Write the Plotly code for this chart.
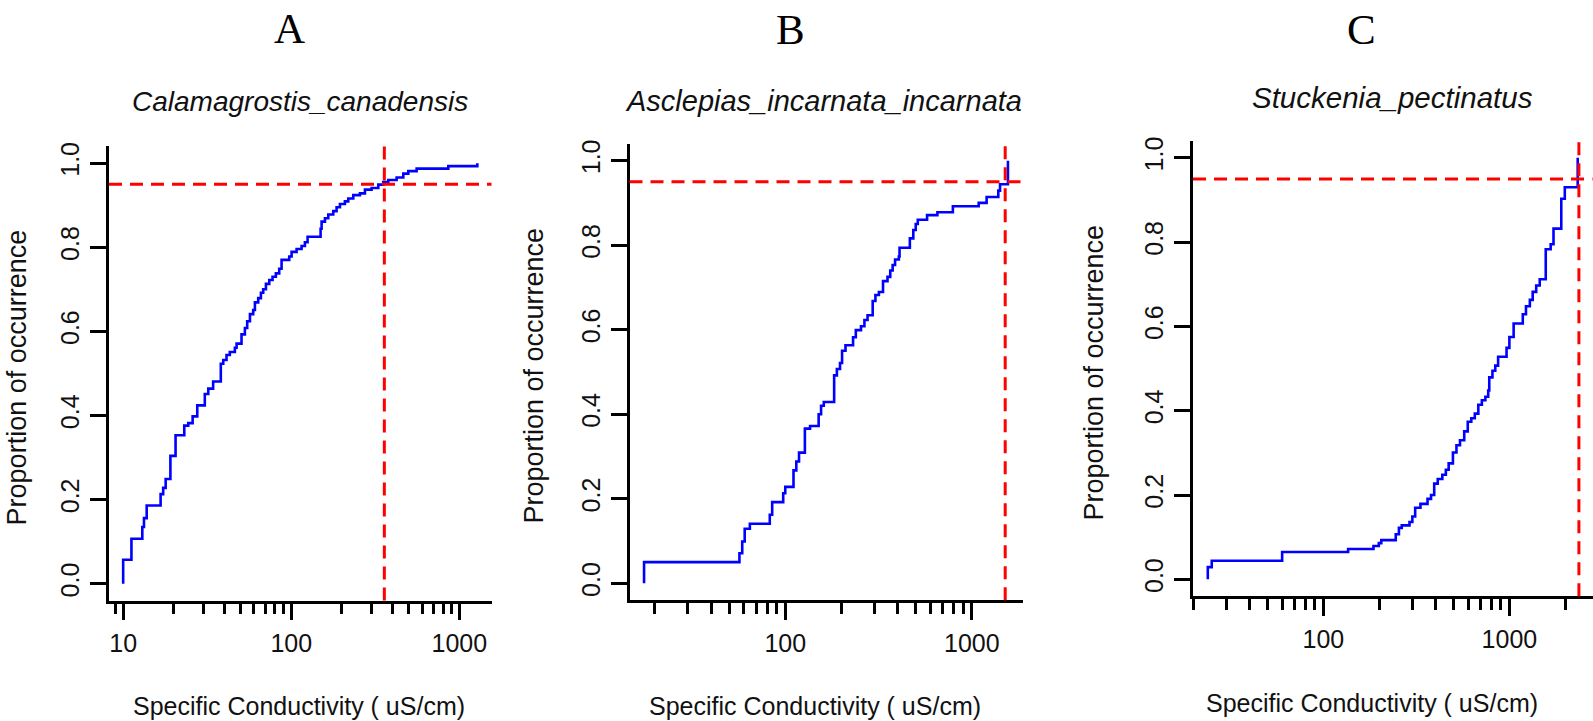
import math
import plotly.graph_objects as go

# ---------------- data ----------------
panel_letters = ["A", "B", "C"]
species = ["Calamagrostis_canadensis", "Asclepias_incarnata_incarnata", "Stuckenia_pectinatus"]
x_title = "Specific Conductivity ( uS/cm)"
y_title = "Proportion of occurrence"

# Panel A: step positions (uS/cm) and cumulative proportion after each step
a_x = [10.0, 11.2, 13.0, 13.3, 13.8, 16.7, 17.3, 17.9, 19.1, 20.5, 23.1, 24.4, 25.9, 27.6, 30.6, 32.1,
       34.3, 38.1, 39.4, 41.2, 43.1, 46.2, 47.3, 50.6, 53.0, 54.7, 56.8, 59.4, 60.8, 63.6, 66.0, 68.1,
       70.7, 74.0, 77.4, 81.0, 84.8, 87.6, 97.3, 100.5, 107.6, 115.2, 120.6, 125.1, 149.5, 151.6, 158.7,
       166.1, 177.8, 186.1, 194.9, 208.6, 218.4, 233.9, 256.3, 274.5, 300.7, 329.6, 352.8, 377.9, 423.6,
       464.2, 497.1, 557.2, 860.0, 1280.0]
a_y = [0.057, 0.107, 0.135, 0.156, 0.186, 0.213, 0.228, 0.249, 0.304, 0.353, 0.376, 0.382, 0.398, 0.424,
       0.451, 0.464, 0.481, 0.523, 0.532, 0.544, 0.551, 0.561, 0.571, 0.593, 0.608, 0.624, 0.641, 0.651,
       0.669, 0.679, 0.692, 0.700, 0.713, 0.722, 0.730, 0.738, 0.749, 0.770, 0.778, 0.789, 0.796, 0.803,
       0.812, 0.825, 0.844, 0.861, 0.869, 0.878, 0.886, 0.895, 0.903, 0.909, 0.916, 0.924, 0.928, 0.937,
       0.941, 0.949, 0.955, 0.960, 0.966, 0.975, 0.981, 0.987, 0.993, 1.000]

# Panel B
b_x = [17.5, 56.8, 58.8, 60.6, 64.6, 82.6, 85.1, 97.5, 100.0, 110.7, 114.6, 118.5, 127.4, 135.8, 151.0,
       155.6, 160.9, 182.8, 189.1, 196.6, 201.6, 210.3, 230.9, 238.9, 254.6, 265.7, 276.1, 294.2, 304.3,
       317.6, 334.2, 353.2, 365.4, 376.4, 387.8, 406.3, 409.8, 465.5, 485.7, 500.4, 513.3, 575.6, 653.9,
       791.5, 1088.6, 1200.5, 1386.8, 1416.8, 1562.0]
b_y = [0.050, 0.071, 0.099, 0.129, 0.141, 0.162, 0.192, 0.213, 0.228, 0.267, 0.288, 0.309, 0.366, 0.372,
       0.400, 0.420, 0.429, 0.492, 0.507, 0.521, 0.550, 0.563, 0.582, 0.599, 0.608, 0.623, 0.634, 0.668,
       0.682, 0.689, 0.715, 0.725, 0.740, 0.753, 0.766, 0.773, 0.794, 0.816, 0.836, 0.850, 0.860, 0.871,
       0.878, 0.892, 0.900, 0.914, 0.929, 0.944, 1.000]

# Panel C
c_x = [23.9, 25.1, 60.0, 135.8, 185.9, 198.6, 204.8, 244.9, 254.7, 263.8, 290.4, 300.8, 311.5, 332.5,
       362.9, 379.1, 394.3, 411.9, 436.0, 455.4, 471.6, 497.1, 519.3, 542.5, 571.7, 597.3, 623.9, 651.7,
       680.8, 711.2, 743.0, 769.4, 779.6, 810.9, 839.8, 869.7, 965.6, 1000.0, 1054.0, 1180.6, 1228.0,
       1288.6, 1334.4, 1394.0, 1456.0, 1568.6, 1667.0, 1727.0, 1901.0, 1986.0, 2330.0]
c_y = [0.029, 0.044, 0.065, 0.072, 0.079, 0.086, 0.093, 0.107, 0.122, 0.128, 0.136, 0.149, 0.170, 0.179,
       0.191, 0.200, 0.227, 0.238, 0.248, 0.260, 0.275, 0.301, 0.318, 0.330, 0.351, 0.374, 0.382, 0.393,
       0.414, 0.425, 0.433, 0.448, 0.479, 0.495, 0.507, 0.528, 0.549, 0.575, 0.607, 0.629, 0.648, 0.663,
       0.682, 0.697, 0.712, 0.783, 0.795, 0.832, 0.903, 0.930, 1.000]

cutoffs = [358, 1510, 2365]          # vertical red dashed lines (uS/cm)
proportion_line = 0.95                # horizontal red dashed line
major_ticks = [[10, 100, 1000], [100, 1000], [100, 1000]]
y_ticks = [0.0, 0.2, 0.4, 0.6, 0.8, 1.0]

series_x = [a_x, b_x, c_x]
series_y = [a_y, b_y, c_y]

# ---------------- layout (pixel geometry) ----------------
W, H = 1593, 721
x_dom_px = [(109.0, 491.5), (629.5, 1022.5), (1193.0, 1592.5)]
y_dom_px = [(143.1, 599.9), (140.5, 599.5), (137.7, 595.5)]   # (top, bottom)
title_pos = [(300, 98), (824, 97.5), (1392, 94)]
title_size = [28, 29, 29.5]
letter_pos = [(289.5, 25), (790.5, 26), (1361, 26)]
ytitle_pos = [(16.5, 376), (533.6, 374), (1093.6, 371)]
xtitle_pos = [(299, 706), (815, 706), (1372, 703)]

FONT = "Liberation Sans, Arial, sans-serif"
minor_vals = [m * 10 ** k for k in range(0, 4) for m in range(2, 10)]

fig = go.Figure()
for i in range(3):
    xs, ys = series_x[i], series_y[i]
    xa = "x" if i == 0 else f"x{i+1}"
    ya = "y" if i == 0 else f"y{i+1}"
    fig.add_trace(go.Scatter(
        x=[xs[0]] + xs, y=[0.0] + ys, mode="lines", line=dict(color="#0000FF", width=2.6, shape="hv"),
        xaxis=xa, yaxis=ya, showlegend=False, hoverinfo="skip"))

    lo, hi = math.log10(min(xs)), math.log10(max(xs))
    w = hi - lo
    xr = [lo - 0.04 * w, hi + 0.04 * w]
    key = "" if i == 0 else str(i + 1)
    fig.update_layout(**{
        f"xaxis{key}": dict(
            type="log", range=xr, domain=[x_dom_px[i][0] / W, min(1.0, x_dom_px[i][1] / W)],
            anchor=ya, showline=True, linecolor="black", linewidth=2.8, mirror=False,
            showgrid=False, zeroline=False, ticks="outside", ticklen=17, tickwidth=2.6,
            tickcolor="black", tickmode="array", tickvals=major_ticks[i],
            ticktext=[str(v) for v in major_ticks[i]],
            tickfont=dict(family=FONT, size=25, color="#111111"), ticklabelstandoff=2,
            minor=dict(tickmode="array", tickvals=minor_vals, ticks="outside", ticklen=11,
                       tickwidth=2.6, tickcolor="black", showgrid=False),
        ),
        f"yaxis{key}": dict(
            range=[-0.04, 1.04], domain=[1 - y_dom_px[i][1] / H, 1 - y_dom_px[i][0] / H],
            anchor=xa, showline=True, linecolor="black", linewidth=2.8, mirror=False,
            showgrid=False, zeroline=False, ticks="outside", ticklen=16, tickwidth=2.6,
            tickcolor="black", tickmode="array", tickvals=y_ticks,
            ticktext=[f"{v:.1f}" for v in y_ticks], tickangle=-90,
            tickfont=dict(family=FONT, size=25, color="#111111"), ticklabelstandoff=1,
        ),
    })
    # red dashed reference lines
    fig.add_shape(type="line", xref=f"{xa} domain", yref=ya, x0=0, x1=1,
                  y0=proportion_line, y1=proportion_line, layer="above",
                  line=dict(color="#FF0000", width=3, dash="13px,8px"))
    fig.add_shape(type="line", xref=xa, yref=f"{ya} domain", x0=cutoffs[i], x1=cutoffs[i],
                  y0=0, y1=1, layer="above", line=dict(color="#FF0000", width=3, dash="13px,8px"))

    # titles / labels
    fig.add_annotation(xref="paper", yref="paper", x=title_pos[i][0] / W, y=1 - title_pos[i][1] / H,
                       text=f"<i>{species[i]}</i>", showarrow=False, xanchor="center", yanchor="middle",
                       font=dict(family=FONT, size=title_size[i], color="#111111"))
    fig.add_annotation(xref="paper", yref="paper", x=letter_pos[i][0] / W, y=1 - letter_pos[i][1] / H,
                       text=panel_letters[i], showarrow=False, xanchor="center", yanchor="middle",
                       font=dict(family="Liberation Serif, Times New Roman, serif", size=43, color="black"))
    fig.add_annotation(xref="paper", yref="paper", x=ytitle_pos[i][0] / W, y=1 - ytitle_pos[i][1] / H,
                       text=y_title, textangle=-90, showarrow=False, xanchor="center", yanchor="middle",
                       font=dict(family=FONT, size=27, color="#111111"))
    fig.add_annotation(xref="paper", yref="paper", x=xtitle_pos[i][0] / W, y=1 - xtitle_pos[i][1] / H,
                       text=x_title, showarrow=False, xanchor="center", yanchor="middle",
                       font=dict(family=FONT, size=25, color="#111111"))

fig.update_layout(width=W, height=H, margin=dict(l=0, r=0, t=0, b=0),
                  paper_bgcolor="white", plot_bgcolor="white", showlegend=False)
fig.write_html("out.html")
